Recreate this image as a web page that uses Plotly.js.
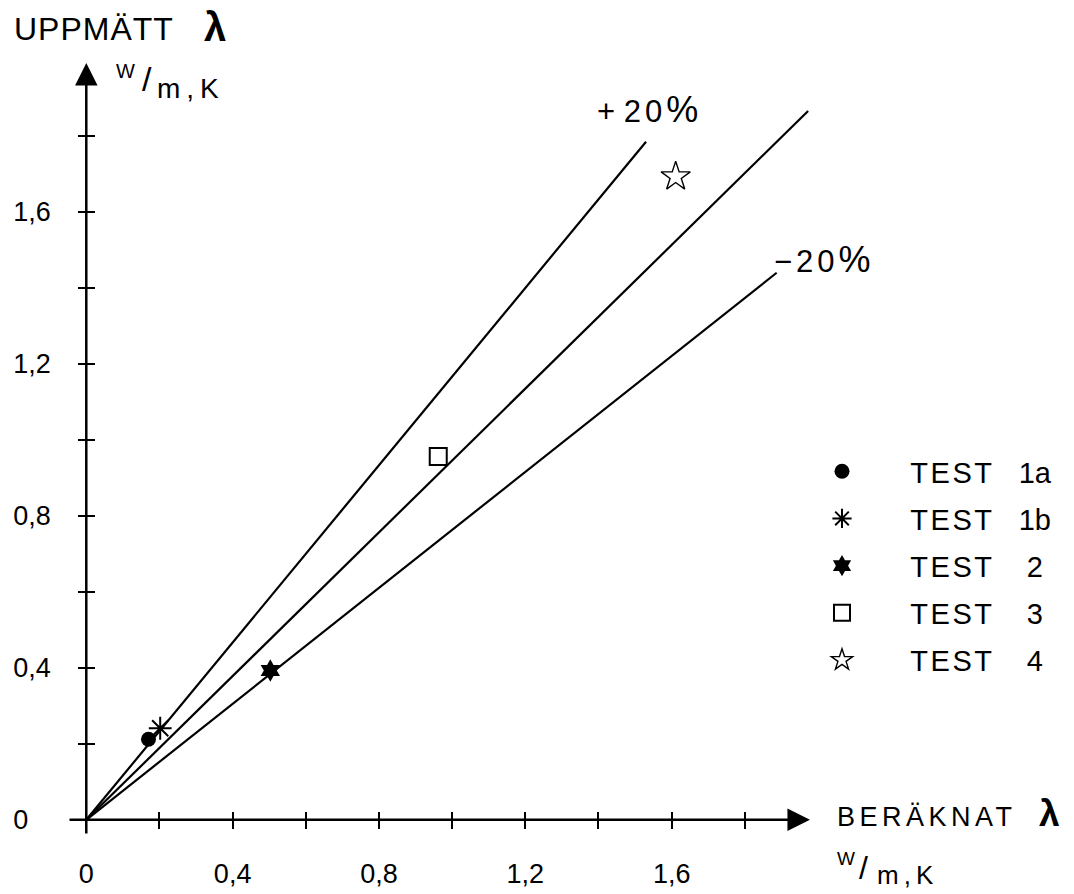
<!DOCTYPE html>
<html>
<head>
<meta charset="utf-8">
<script src="https://cdn.plot.ly/plotly-3.0.1.min.js"></script>
<style>
  html, body { margin: 0; padding: 0; background: #fff; }
  #chart { width: 1074px; height: 894px; }
</style>
</head>
<body>
<div id="chart"></div>
<script>
// Measured vs. calculated thermal conductivity (λ, W/m,K) for five tests,
// with the 1:1 reference line and the ±20 % band.

// ---- data ----
const testNames = ['TEST 1a', 'TEST 1b', 'TEST 2', 'TEST 3', 'TEST 4'];
const testLabelTail = ['1a', '1b', '2', '3', '4'];
const calcLambda = [0.170, 0.202, 0.503, 0.962, 1.611];   // BERÄKNAT λ
const measLambda = [0.212, 0.241, 0.393, 0.956, 1.693];   // UPPMÄTT λ

// reference lines (start at origin)
const lineMidX = [0, 1.973];
const lineMidY = [0, 1.866];
const linePlusX = [0, 1.530];
const linePlusY = [0, 1.785];
const lineMinusX = [0, 1.887];
const lineMinusY = [0, 1.440];

// axis ticks
const tickVals = [0, 0.2, 0.4, 0.6, 0.8, 1.0, 1.2, 1.4, 1.6, 1.8];
const xTickText = ['0', '', '0,4', '', '0,8', '', '1,2', '', '1,6', ''];
const yTickText = ['0\u00a0\u00a0\u00a0', '', '0,4', '', '0,8', '', '1,2', '', '1,6', ''];

// ---- geometry ----
const FONT = 'Liberation Sans, Arial, Helvetica, sans-serif';
const X_RANGE = [-0.05, 2.0];
const Y_RANGE = [-0.04, 2.0];
const PX_PER_X = 366, PX_PER_Y = 380;
const ORIGIN = [86, 820];
const L = ORIGIN[0] + X_RANGE[0] * PX_PER_X;
const PW = (X_RANGE[1] - X_RANGE[0]) * PX_PER_X;
const T = ORIGIN[1] - Y_RANGE[1] * PX_PER_Y;
const PH = (Y_RANGE[1] - Y_RANGE[0]) * PX_PER_Y;
const FIG_W = 1074, FIG_H = 894;

const paperX = px => (px - L) / PW;
const paperY = py => (T + PH - py) / PH;
const xAxisPos = (0 - Y_RANGE[0]) / (Y_RANGE[1] - Y_RANGE[0]);
const yAxisPos = (0 - X_RANGE[0]) / (X_RANGE[1] - X_RANGE[0]);

const symbols = ['circle', 'asterisk-open', 'hexagram', 'square-open', 'star-open'];
const sizes = [15, 19, 17, 17, 22];
const lineWidths = [0, 2, 0, 2, 1.4];

const nb = n => '\u00a0'.repeat(n);
const spaced = (s, px) => '<span style="letter-spacing:' + px + 'px">' + s + '</span>';

const traces = [];

// reference lines
[[lineMidX, lineMidY], [linePlusX, linePlusY], [lineMinusX, lineMinusY]].forEach(p => {
  traces.push({
    x: p[0], y: p[1], type: 'scatter', mode: 'lines',
    line: { color: '#000', width: 2.2 },
    showlegend: false, hoverinfo: 'skip'
  });
});

// test points, legend text laid out with fixed spacing
testNames.forEach((name, i) => {
  const gap = testLabelTail[i].length > 1 ? 3 : 4;
  traces.push({
    x: [calcLambda[i]], y: [measLambda[i]],
    type: 'scatter', mode: 'markers',
    name: nb(6) + spaced(name.split(' ')[0], 2.5) + nb(gap) + testLabelTail[i],
    legendgroup: 'g' + i,
    marker: {
      symbol: symbols[i], size: sizes[i], color: '#000',
      line: { color: '#000', width: lineWidths[i] }
    }
  });
});

// empty traces to carry the mirrored tick axes
traces.push({ x: [], y: [], xaxis: 'x2', yaxis: 'y', showlegend: false, hoverinfo: 'skip' });
traces.push({ x: [], y: [], xaxis: 'x', yaxis: 'y2', showlegend: false, hoverinfo: 'skip' });

const tickCommon = {
  tickmode: 'array', tickvals: tickVals,
  ticklen: 8, tickwidth: 2, tickcolor: '#000',
  showgrid: false, zeroline: false, showline: false, fixedrange: true
};

function txt(text, x, y, size, opts) {
  return Object.assign({
    text: text, xref: 'paper', yref: 'paper',
    x: paperX(x), y: paperY(y), showarrow: false,
    xanchor: 'left', yanchor: 'middle',
    font: { family: FONT, size: size, color: '#000' }
  }, opts || {});
}

const annotations = [
  // axis arrows
  { x: 0, y: 1.992, ax: 0, ay: Y_RANGE[0], xref: 'x', yref: 'y', axref: 'x', ayref: 'y',
    text: '', showarrow: true, arrowhead: 2, arrowwidth: 2.5, arrowsize: 1.8, arrowcolor: '#000', standoff: 0 },
  { x: 1.978, y: 0, ax: X_RANGE[0], ay: 0, xref: 'x', yref: 'y', axref: 'x', ayref: 'y',
    text: '', showarrow: true, arrowhead: 2, arrowwidth: 2.5, arrowsize: 1.8, arrowcolor: '#000', standoff: 0 },

  // y-axis title and unit
  txt(spaced('UPPMÄTT', 1), 12, 28.5, 32),
  txt('<b>λ</b>', 215, 27, 40, { xanchor: 'center' }),
  txt('W', 125, 71.5, 20, { xanchor: 'center' }),
  txt('/', 146.5, 79, 34, { xanchor: 'center' }),
  txt(spaced('m,K', 6), 155, 89, 28),

  // x-axis title and unit
  txt(spaced('BERÄKNAT', 4.5), 835, 817.5, 27),
  txt('<b>λ</b>', 1050, 814, 37, { xanchor: 'center' }),
  txt('W', 846.5, 858.5, 19, { xanchor: 'center' }),
  txt('/', 864, 868.5, 32, { xanchor: 'center' }),
  txt(spaced('m,K', 5), 875, 875, 26),

  // band labels
  txt('+ ' + spaced('20', 4) + '<span style="font-size:36px">%</span>', 595, 110, 31),
  txt(spaced('−20', 4) + '<span style="font-size:36px">%</span>', 772, 260, 31)
];

const layout = {
  width: FIG_W, height: FIG_H,
  margin: { l: L, r: FIG_W - L - PW, t: T, b: FIG_H - T - PH, pad: 0 },
  paper_bgcolor: '#fff', plot_bgcolor: '#fff',
  font: { family: FONT, size: 27, color: '#000' },
  xaxis: Object.assign({}, tickCommon, {
    range: X_RANGE, anchor: 'free', position: xAxisPos,
    ticks: 'outside', ticktext: xTickText, ticklabelstandoff: 22,
    tickfont: { family: FONT, size: 27, color: '#000' }
  }),
  xaxis2: Object.assign({}, tickCommon, {
    range: X_RANGE, overlaying: 'x', anchor: 'free', position: xAxisPos,
    ticks: 'inside', showticklabels: false
  }),
  yaxis: Object.assign({}, tickCommon, {
    range: Y_RANGE, anchor: 'free', position: yAxisPos,
    ticks: 'outside', ticktext: yTickText, ticklabelstandoff: 22,
    tickfont: { family: FONT, size: 27, color: '#000' }
  }),
  yaxis2: Object.assign({}, tickCommon, {
    range: Y_RANGE, overlaying: 'y', anchor: 'free', position: yAxisPos,
    ticks: 'inside', showticklabels: false
  }),
  showlegend: true,
  legend: {
    x: paperX(822), y: paperY(446), xanchor: 'left', yanchor: 'top',
    traceorder: 'grouped', tracegroupgap: 6.5,
    bgcolor: 'rgba(0,0,0,0)', borderwidth: 0,
    font: { family: FONT, size: 29, color: '#000' }
  },
  annotations: annotations
};

Plotly.newPlot('chart', traces, layout, { displayModeBar: false, staticPlot: true });
</script>
</body>
</html>
